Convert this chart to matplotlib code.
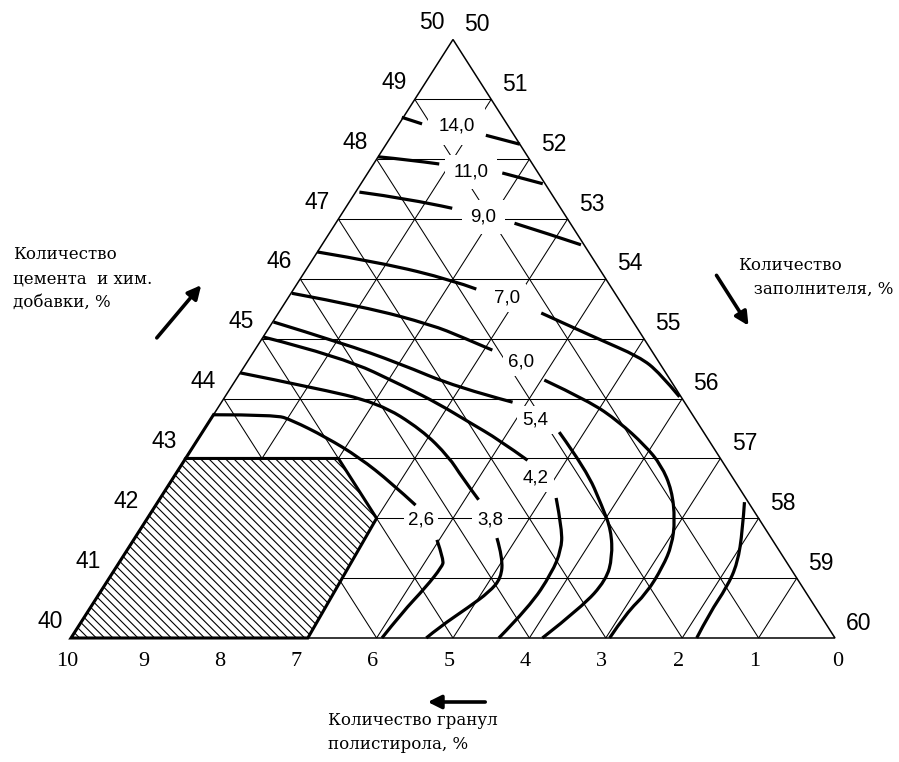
import matplotlib
matplotlib.use("Agg")
import matplotlib.pyplot as plt
from matplotlib.patches import Polygon, FancyArrowPatch, PathPatch
from matplotlib.path import Path

# ---------------------------------------------------------------------------
# Ternary composition: cement + chemical additive (40..50 %),
# polystyrene granules (0..10 %), filler (50..60 %); the three sum to 100 %.
# Every point below is given as (cement %, granules %).
# ---------------------------------------------------------------------------
cement_ticks = list(range(40, 51))
filler_ticks = list(range(50, 61))
granule_ticks = list(range(10, -1, -1))

# isolines of the property, each one split into branches
iso_14_0 = [
    [(48.70, 1.32), (48.59, 1.11)],
    [(48.40, 0.37), (48.25, 0.00)],
]
iso_11_0 = [
    [(48.04, 1.96), (47.99, 1.58), (47.92, 1.22)],
    [(47.77, 0.47), (47.59, 0.03)],
]
iso_9_0 = [
    [(47.45, 2.50), (47.34, 1.91), (47.18, 1.42)],
    [(46.93, 0.73), (46.75, 0.37), (46.57, 0.04)],
]
iso_7_0 = [
    [(46.45, 3.55), (46.27, 2.80), (45.98, 2.02), (45.83, 1.78)],
    [(45.43, 1.13), (45.01, 0.62), (44.70, 0.21), (44.43, 0.08), (44.03, 0.02)],
    [(42.27, 0.05), (41.80, 0.31), (41.25, 0.65), (40.85, 0.99), (40.42, 1.43), (40.00, 1.81)],
]
iso_6_0 = [
    [(45.76, 4.23), (45.53, 3.38), (45.23, 2.66), (45.03, 2.37), (44.81, 2.08)],
    [(44.31, 1.65), (43.96, 1.24), (43.61, 1.02), (43.22, 0.88), (42.89, 0.83),
     (42.47, 0.90), (41.97, 1.11), (41.55, 1.36), (41.19, 1.66), (40.75, 2.09),
     (40.42, 2.52), (40.00, 2.95)],
]
iso_5_4 = [
    [(45.28, 4.71), (44.93, 3.99), (44.59, 3.41), (44.19, 2.86), (43.94, 2.25)],
    [(43.44, 1.89), (42.81, 1.85), (42.19, 1.95), (41.80, 2.03), (41.35, 2.24),
     (40.97, 2.51), (40.52, 3.05), (40.00, 3.83)],
]
iso_4_2 = [
    [(45.03, 4.97), (44.70, 4.11), (44.19, 3.52), (43.91, 3.23), (43.61, 2.99),
     (43.31, 2.74), (42.97, 2.54)],
    [(42.34, 2.48), (41.80, 2.67), (41.47, 2.85), (41.09, 3.16), (40.52, 3.74),
     (40.00, 4.40)],
]
iso_3_8 = [
    [(44.43, 5.57), (44.19, 4.75), (43.93, 4.01), (43.48, 3.67), (43.02, 3.54),
     (42.69, 3.54), (42.31, 3.51)],
    [(41.67, 3.59), (41.34, 3.68), (41.00, 3.87), (40.77, 4.14), (40.52, 4.53),
     (40.18, 5.09), (40.00, 5.35)],
]
iso_2_6 = [
    [(43.73, 6.27), (43.73, 5.46), (43.64, 5.29), (43.36, 4.99), (43.02, 4.72),
     (42.59, 4.51), (42.22, 4.38)],
    [(41.64, 4.39), (41.30, 4.47), (41.19, 4.55), (40.85, 4.93), (40.42, 5.46),
     (40.00, 5.93)],
]
isolines = [iso_14_0, iso_11_0, iso_9_0, iso_7_0, iso_6_0,
            iso_5_4, iso_4_2, iso_3_8, iso_2_6]

iso_labels = ["14,0", "11,0", "9,0", "7,0", "6,0", "5,4", "4,2", "3,8", "2,6"]
iso_label_at = [(48.55, 0.68), (47.79, 0.87), (47.03, 1.09), (45.68, 1.45),
                (44.61, 1.80), (43.64, 2.10), (42.67, 2.59), (41.97, 3.53),
                (41.97, 4.43)]

# recommended composition area (hatched)
optimal_zone = [(40, 10), (43, 7), (43, 5), (42, 5), (40, 6.9)]

axis_titles = {
    "cement": "Количество\nцемента  и хим.\nдобавки, %",
    "filler": "Количество\n   заполнителя, %",
    "granules": "Количество гранул\nполистирола, %",
}


def to_xy(c, g):
    """(cement %, granules %) -> plane coordinates of the triangle."""
    k = c - 40.0
    return 10.0 - g - k / 2.0, k


def branch_xy(points):
    xs, ys = zip(*[to_xy(c, g) for c, g in points])
    return xs, ys


def smooth_branch(points):
    """Quadratic Bezier path that uses the inner points as control points."""
    p = [to_xy(c, g) for c, g in points]
    if len(p) < 3:
        return Path(p, [Path.MOVETO, Path.LINETO])
    verts, codes = [p[0]], [Path.MOVETO]
    for i in range(1, len(p) - 2):
        mid = ((p[i][0] + p[i + 1][0]) / 2, (p[i][1] + p[i + 1][1]) / 2)
        verts += [p[i], mid]
        codes += [Path.CURVE3, Path.CURVE3]
    verts += [p[-2], p[-1]]
    codes += [Path.CURVE3, Path.CURVE3]
    return Path(verts, codes)


# ---------------------------------------------------------------------------
W, H = 899, 762
fig = plt.figure(figsize=(W / 100, H / 100), dpi=100)
fig.patch.set_facecolor("white")
ax = fig.add_axes([0, 0, 1, 1])
ax.set_axis_off()

x0_px, xu_px = 71.0, 76.4      # left vertex and one granule step, pixels
y0_px, yu_px = 638.0, 59.85    # base line and one cement step, pixels
ax.set_xlim(-x0_px / xu_px, (W - x0_px) / xu_px)
ax.set_ylim(-(H - y0_px) / yu_px, y0_px / yu_px)

grid_kw = dict(color="black", lw=0.75, zorder=1, solid_capstyle="butt")

# lines of constant cement content
for c in cement_ticks[1:-1]:
    xs, ys = branch_xy([(c, 50 - c), (c, 0)])
    ax.plot(xs, ys, **grid_kw)
# lines of constant granule content
for g in granule_ticks[1:-1]:
    xs, ys = branch_xy([(40, g), (50 - g, g)])
    ax.plot(xs, ys, **grid_kw)
# lines of constant filler content
for f in filler_ticks[1:-1]:
    xs, ys = branch_xy([(40, 60 - f), (100 - f, 0)])
    ax.plot(xs, ys, **grid_kw)

# triangle outline
xs, ys = branch_xy([(40, 10), (40, 0), (50, 0), (40, 10)])
ax.plot(xs, ys, color="black", lw=1.1, zorder=4, solid_joinstyle="miter")

# hatched area
plt.rcParams["hatch.linewidth"] = 0.8
zone = Polygon([to_xy(c, g) for c, g in optimal_zone], closed=True,
               facecolor="white", edgecolor="black", hatch="\\\\\\\\",
               lw=2.2, zorder=2.5, joinstyle="miter")
ax.add_patch(zone)
# thickened left side above the zone
xs, ys = branch_xy([(43, 7), (43.73, 6.27)])
ax.plot(xs, ys, color="black", lw=2.2, zorder=3)

# isolines
for iso in isolines:
    for branch in iso:
        ax.add_patch(PathPatch(smooth_branch(branch), fill=False,
                               edgecolor="black", lw=2.3, zorder=3,
                               capstyle="butt", joinstyle="round"))

# isoline values
pads = [0.55, 0.45, 0.45, 0.3, 0.3, 0.3, 0.3, 0.25, 0.2]
for txt, (c, g), pad in zip(iso_labels, iso_label_at, pads):
    x, y = to_xy(c, g)
    ax.text(x, y, txt, ha="center", va="center", fontsize=13.5,
            family="Liberation Sans", zorder=2.8,
            bbox=dict(boxstyle=f"square,pad={pad}", fc="white", ec="none"))

num_font = dict(family="Liberation Sans", fontsize=16.5)
# cement scale along the left side
for c in cement_ticks:
    ax.annotate(str(c), to_xy(c, 50 - c), xytext=(-21, 17),
                textcoords="offset pixels", ha="center", va="center",
                **num_font)
# filler scale along the right side
for f in filler_ticks:
    ax.annotate(str(f), to_xy(100 - f, 0), xytext=(24, 15),
                textcoords="offset pixels", ha="center", va="center",
                **num_font)
# granule scale along the base
for g in granule_ticks:
    ax.annotate(str(g), to_xy(40, g), xytext=(-4 if g else 3, -24),
                textcoords="offset pixels", ha="center", va="center",
                family="Liberation Serif", fontsize=16)

# axis titles
cap_font = dict(family="DejaVu Serif", fontsize=12, linespacing=1.55,
                ha="left", va="top")
fig.text(13 / W, 1 - 246 / H, axis_titles["cement"], **cap_font)
fig.text(738 / W, 1 - 257 / H, axis_titles["filler"], **cap_font)
fig.text(328 / W, 1 - 712 / H, axis_titles["granules"], **cap_font)


def px_arrow(p_from, p_to):
    a = FancyArrowPatch((p_from[0] / W, 1 - p_from[1] / H),
                        (p_to[0] / W, 1 - p_to[1] / H),
                        transform=fig.transFigure, arrowstyle="-|>",
                        mutation_scale=20, lw=2.6, color="black")
    fig.add_artist(a)


px_arrow((155, 340), (203, 283))
px_arrow((715, 273), (750, 328))
px_arrow((488, 702), (425, 702))

fig.savefig("out.png", dpi=100, facecolor="white")
